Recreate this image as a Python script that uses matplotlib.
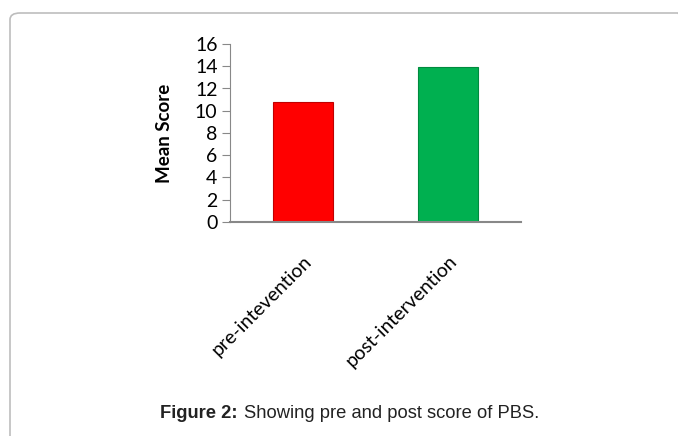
import matplotlib
matplotlib.use('Agg')
import matplotlib.pyplot as plt
from matplotlib.patches import FancyBboxPatch

categories = ['pre-intevention', 'post-intervention']
mean_score = [10.8, 13.9]
bar_colors = ['#FF0000', '#00B050']
edge_colors = ['#C00000', '#008A3E']

fig = plt.figure(figsize=(6.78, 4.36), dpi=100)

# outer frame (rounded, running off the right and bottom edges)
frame = FancyBboxPatch((10/678, -0.1), 1.0, 1 - 13/436 + 0.1,
                       boxstyle='round,pad=0,rounding_size=0.015',
                       transform=fig.transFigure, fill=False,
                       edgecolor='#BDBDBD', linewidth=1.2)
fig.patches.append(frame)

ax = fig.add_axes([230/678, 1 - 222/436, 291/678, 178/436])
x = range(len(categories))
ax.bar(x, mean_score, width=0.41, color=bar_colors, edgecolor=edge_colors, linewidth=0.8)
ax.set_xlim(-0.5, 1.5)
ax.set_ylim(0, 16)
ax.set_yticks(range(0, 17, 2))
ax.set_xticks(list(x))
ax.set_xticklabels(categories, rotation=45, ha='right', rotation_mode='anchor',
                   fontsize=14, family='Lato')
for lab in ax.get_yticklabels():
    lab.set_fontsize(14)
    lab.set_family('Lato')
ax.set_ylabel('Mean Score', fontsize=13.5, fontweight='bold', family='Lato', labelpad=16)

for s in ['top', 'right']:
    ax.spines[s].set_visible(False)
ax.spines['left'].set_color('#888888')
ax.spines['bottom'].set_color('#888888')
ax.spines['bottom'].set_linewidth(1.5)
ax.tick_params(axis='y', direction='out', length=6, color='#888888', pad=3)
ax.tick_params(axis='x', length=0, pad=22)

fig.text(160/678, 1 - 413/436, 'Figure 2:', fontweight='bold', fontsize=13.2,
         family='Liberation Sans', ha='left', va='center', color='#222222')
fig.text(244/678, 1 - 413/436, 'Showing pre and post score of PBS.', fontsize=13.2,
         family='Liberation Sans', ha='left', va='center', color='#222222')

fig.savefig('out.png', dpi=100)
